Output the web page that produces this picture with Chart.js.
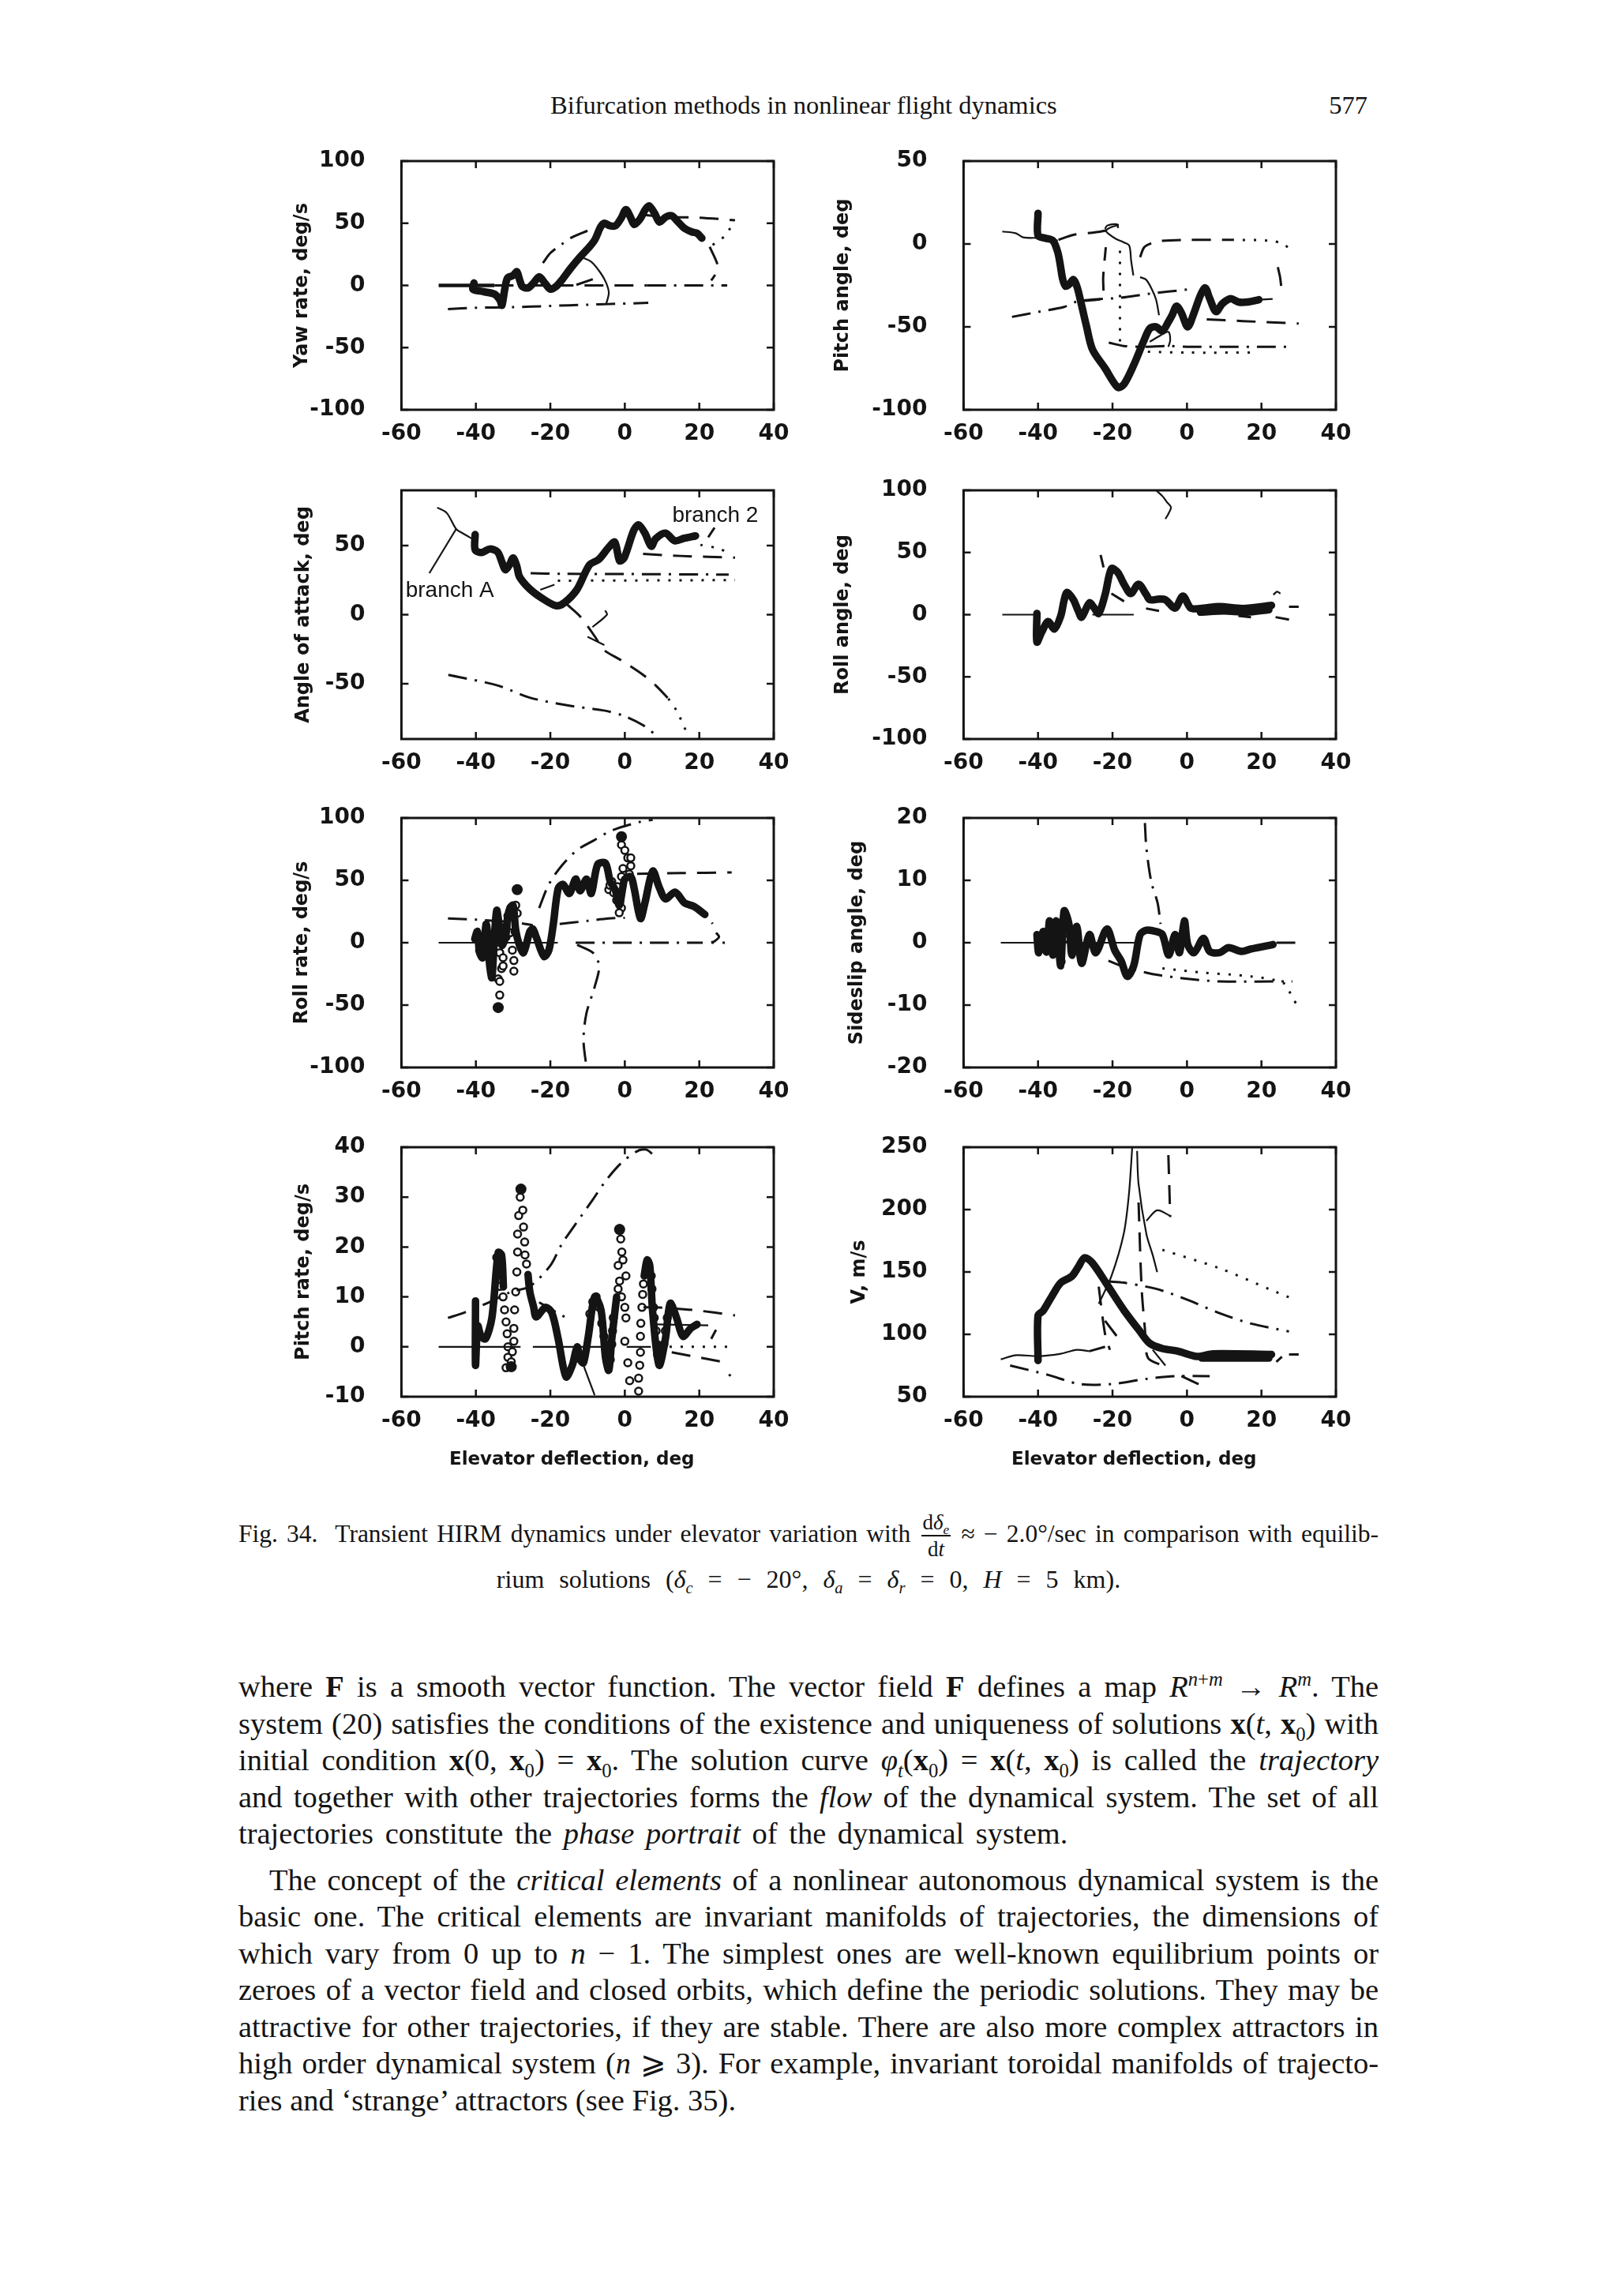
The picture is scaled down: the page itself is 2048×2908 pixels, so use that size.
<!DOCTYPE html>
<html>
<head>
<meta charset="utf-8">
<script src="https://cdn.jsdelivr.net/npm/chart.js@4.4.1/dist/chart.umd.min.js"></script>
<style>
  body { margin: 0; background: #fff; }
  #page { position: relative; width: 2048px; height: 2908px; background: #fff; color: #141414;
    font-family: "Liberation Serif", "Times New Roman", serif; overflow: hidden; }
  canvas { position: absolute; }
  .txt { position: absolute; white-space: nowrap; }
  .j { text-align: justify; text-align-last: justify; }
  .j.last { text-align-last: left; }
  sup, sub { font-size: .64em; line-height: 0; }
  .frac { display: inline-flex; flex-direction: column; align-items: center; vertical-align: middle;
    font-size: 27px; line-height: 1.2; margin: 0 2px; }
  .frac > span:first-child { border-bottom: 2px solid #141414; padding: 0 2px; }
</style>
</head>
<body>
<div id="page">
  <div class="txt" style="left:697px;top:115px;font-size:32.5px;line-height:36px">Bifurcation methods in nonlinear flight dynamics</div>
  <div class="txt" style="right:316px;top:115px;font-size:32.5px;line-height:36px">577</div>

  <canvas id="c1"></canvas><canvas id="c2"></canvas>
  <canvas id="c3"></canvas><canvas id="c4"></canvas>
  <canvas id="c5"></canvas><canvas id="c6"></canvas>
  <canvas id="c7"></canvas><canvas id="c8"></canvas>

  <div class="txt j" style="left:302px;width:1444px;top:1912px;font-size:31.5px;line-height:50px;white-space:normal">Fig. 34.&nbsp; Transient HIRM dynamics under elevator variation with <span class="frac"><span>d<i>δ</i><sub><i>e</i></sub></span><span>d<i>t</i></span></span> ≈ − 2.0°/sec in comparison with equilib-</div>
  <div class="txt" style="left:302px;width:1444px;top:1980px;font-size:32px;line-height:40px;text-align:center;word-spacing:11px">rium solutions (<i>δ</i><sub><i>c</i></sub> = − 20°, <i>δ</i><sub><i>a</i></sub> = <i>δ</i><sub><i>r</i></sub> = 0, <i>H</i> = 5 km).</div>

  <div style="position:absolute;left:302px;width:1444px;top:2113px;font-size:38.5px;line-height:46.5px">
    <div class="j">where <b>F</b> is a smooth vector function. The vector field <b>F</b> defines a map <i>R</i><sup><i>n</i>+<i>m</i></sup> → <i>R</i><sup><i>m</i></sup>. The</div>
    <div class="j">system (20) satisfies the conditions of the existence and uniqueness of solutions <b>x</b>(<i>t</i>, <b>x</b><sub>0</sub>) with</div>
    <div class="j">initial condition <b>x</b>(0, <b>x</b><sub>0</sub>) = <b>x</b><sub>0</sub>. The solution curve <i>φ</i><sub><i>t</i></sub>(<b>x</b><sub>0</sub>) = <b>x</b>(<i>t</i>, <b>x</b><sub>0</sub>) is called the <i>trajectory</i></div>
    <div class="j">and together with other trajectories forms the <i>flow</i> of the dynamical system. The set of all</div>
    <div class="j last" style="word-spacing:5px">trajectories constitute the <i>phase portrait</i> of the dynamical system.</div>
    <div class="j" style="text-indent:39px;margin-top:12px">The concept of the <i>critical elements</i> of a nonlinear autonomous dynamical system is the</div>
    <div class="j">basic one. The critical elements are invariant manifolds of trajectories, the dimensions of</div>
    <div class="j">which vary from 0 up to <i>n</i> − 1. The simplest ones are well-known equilibrium points or</div>
    <div class="j">zeroes of a vector field and closed orbits, which define the periodic solutions. They may be</div>
    <div class="j">attractive for other trajectories, if they are stable. There are also more complex attractors in</div>
    <div class="j">high order dynamical system (<i>n</i> ⩾ 3). For example, invariant toroidal manifolds of trajecto-</div>
    <div class="j last">ries and ‘strange’ attractors (see Fig. 35).</div>
  </div>
</div>

<script>
// Fig. 34 — transient HIRM response (thick) against equilibrium branches (thin, dashed, dotted).
// Values, in [elevator deg, value] pairs.

const X_TICKS = [-60, -40, -20, 0, 20, 40];

// --- yaw rate, deg/s ---------------------------------------------------------
const yawTraj = [[-40.5,2],[-40.8,-3],[-38,-5],[-35,-7],[-33.5,-12],[-33,-16],[-32.3,-4],[-31.5,6],[-30,8],
  [-29,11],[-28.2,4],[-27.5,-1],[-26,-2],[-24.5,2],[-23,7],[-21.5,2],[-20,-3],[-18.5,-1],[-17,4],[-14.5,14],
  [-12,23],[-9.5,31],[-8,37],[-6.5,47],[-5.5,50],[-4,48],[-2.5,48],[-1,54],[0.3,61],[1.5,55],[2.5,49],[4,53],
  [5.5,61],[6.5,64],[8,58],[9.3,51],[11,55],[12.6,56],[14,52],[16,46],[18,43],[19.4,42],[20.7,38]];
const yawSolid0 = [[-50,0],[-35,0]];
const yawDash0 = [[-35,0],[6,0]];
const yawDashDot0 = [[6,0],[27.5,0]];
const yawDashDotLow = [[-47.5,-19],[-40,-18],[-30,-17.5],[-20,-16.5],[-10,-15.5],[-4.5,-15],[6.3,-14]];
const yawThinArc = [[-12,23],[-9,19],[-6.5,10],[-5,2],[-4.3,-6],[-5,-15]];
const yawRiseArc = [[-22,18],[-20,26],[-17,33],[-14,39],[-10,44]];
const yawShortDash = [[-13,0.5],[-8.6,5]];
const yawUpperDash = [[4,57],[12,55],[20,54.5],[29.6,52.4]];
const yawFoldDot = [[28.3,46],[27,40],[22.8,31]];
const yawFoldDash = [[22.8,31],[24.9,16.5],[24.5,10],[23.2,4]];

// --- pitch angle, deg ----------------------------------------------------------
const pitchTraj = [[-40,18.5],[-40,5],[-38,3.5],[-36,2],[-34.7,-5],[-34,-13],[-33.4,-21],[-32.6,-25.5],
  [-31.5,-24],[-30.5,-21.5],[-29.5,-26],[-28.3,-37],[-27,-49.5],[-25.4,-63.5],[-22,-75],[-18.6,-86.5],
  [-16.9,-84.5],[-14.3,-73],[-11.7,-59],[-10,-51],[-8.3,-50],[-6.6,-52.5],[-5,-47],[-4,-43],[-2.8,-37.5],
  [-1.5,-41.5],[0.2,-50],[1.9,-41.5],[3.6,-31],[4.9,-26.5],[6.1,-32.9],[7.8,-40.8],[9.5,-36],[11.7,-33],
  [13.8,-35],[16.3,-35],[19.3,-33.6]];
const pitchSolidA = [[-49.6,7.5],[-46,6.5],[-44,4],[-40,3.6],[-36,2.5],[-34.7,2]];
const pitchDashUp = [[-34.5,2.5],[-30.5,5.5],[-25.4,6.8],[-22,8],[-20.3,9.2],[-18.3,10.5]];
const pitchThinLoop = [[-22,9],[-21.5,11],[-19.5,12],[-18.5,11.5],[-20.5,10],[-21.7,8],[-21,6],[-19,3],
  [-17,1],[-15.5,-1],[-15,-10],[-14.4,-19]];
const pitchDashL = [[-28.3,-34.5],[-23.5,-33.5],[-22.5,-33],[-22.5,-20],[-21.8,-2]];
const pitchDashDotLow = [[-47,-44],[-40,-41],[-33,-38],[-30,-35],[-25,-33.5],[-18,-32.5],[-10,-30],[0,-27.5]];
const pitchSolidEnd = [[19.3,-33.6],[23,-33.2]];
const pitchDotV = [[-18,-4],[-18,-62]];
const pitchDashDotBottom = [[-21,-59.5],[-17,-61.5],[-12,-62],[-5,-61.5],[0,-62],[28,-62]];
const pitchDotBottom = [[-10.5,-65],[0,-65.5],[18,-65.5]];
const pitchDashTop = [[-12.6,-8],[-11.5,-2],[-9.5,0.5],[-7,1.8],[0,2.5],[12,2.5]];
const pitchDotTop = [[12,2.5],[22,2],[26,0],[27.4,-3]];
const pitchDashArc = [[24.4,-14],[25,-20],[25.3,-25.5]];
const pitchThin2 = [[-12.6,-20],[-11,-21.5],[-9.5,-27],[-8.3,-33.6],[-7.5,-43]];
const pitchDashRight = [[5.3,-45.5],[15,-46.5],[30,-48]];
const pitchThinSmall = [[-10,-59],[-7,-55],[-5,-53],[-4.5,-58],[-5,-62]];

// --- angle of attack, deg ------------------------------------------------------
const aoaTraj = [[-40.2,58],[-40.2,47],[-38.5,45],[-36.3,47.5],[-34.2,45.5],[-33,38],[-32.1,32.5],[-31,36],
  [-30,41],[-29,35],[-28.3,27.5],[-25.7,19],[-22.3,12],[-18.5,6.5],[-16.3,8.5],[-12.9,18],[-9.5,36],[-7,40],
  [-4.4,48.5],[-2.7,52.5],[-1.4,39],[-0.2,41],[2.4,61],[3.7,65],[5.4,59],[7.1,49.5],[8.3,55],[10.9,59],
  [13.4,53.5],[16,55.3],[19,57]];
const aoaBranchA = [[-50.4,77.5],[-47.8,73.5],[-45.3,62],[-43.6,59],[-40.6,54.3]];
const aoaLeaderA = [[-52.5,30],[-45.3,62]];
const aoaLeader2 = [[22.4,56],[24.1,63]];
const aoaDashTop = [[4.9,44],[15,42.5],[29.6,41.3]];
const aoaDashDot = [[-25.3,30],[-17,29.6],[0,29.4],[27.9,29]];
const aoaDot = [[-18,24.6],[29.6,25]];
const aoaDotFold = [[20.3,50.5],[25,48],[27.9,44.7]];
const aoaDashDiag = [[-15.5,7.3],[-12,-1.3],[-8,-16],[-5.7,-25.3],[-1,-33],[4.9,-43.6],[8.3,-51.2],[11.7,-60.8]];
const aoaDotDiag = [[11.7,-60.8],[14,-70],[16.9,-87]];
const aoaDashDotLow = [[-47.4,-43.6],[-34.2,-51.2],[-25.7,-59.9],[-15.5,-65.6],[-5.3,-69.5],[-0.2,-73.3],
  [4.9,-80],[8.3,-87]];
const aoaThinZ = [[-5.3,3],[-4.8,0],[-8.7,-9]];
const aoaThinZ2 = [[-10,-16],[-5.5,-22]];
const aoaThinShort = [[-22.7,18],[-18.9,21.7]];
const aoaNotes = [["branch A", -47, 17], ["branch 2", 24.3, 71.5]];

// --- roll angle, deg -----------------------------------------------------------
const rollAngTraj = [[-40.3,1],[-40.3,-22],[-39,-14],[-37.3,-5.5],[-35.6,-11.5],[-33.9,-1],[-33,11.5],
  [-32.2,18],[-30.5,12],[-29.2,3],[-28.3,-2],[-26.2,9.5],[-24.9,5.3],[-23.7,1],[-22,16],[-20.3,37],
  [-18.6,34],[-16.9,24.5],[-15.1,17],[-13,24.5],[-10.9,16],[-10,12],[-7.5,12.5],[-5.8,12],[-3.2,5.3],
  [-1.1,15],[1,5.3],[3.6,5],[8.7,6.5],[15,5],[22.7,7.5]];
const rollAngBand = [[3.6,2],[10,3],[16,2],[22,4]];
const rollAngSolid0 = [[-49.6,0],[-40.3,0]];
const rollAngSolid0b = [[-25.4,0],[-14.3,0]];
const rollAngTop = [[-8.3,100],[-6.5,95],[-5.4,90.6],[-4.3,86.4],[-5,81],[-5.8,77]];
const rollAngDash1 = [[-20.3,17],[-16.9,10.7]];
const rollAngDash2 = [[-11,5],[-7.5,3]];
const rollAngDash3 = [[-23.2,48],[-22.4,38]];
const rollAngDashR = [[27.4,6.4],[30,6.4]];
const rollAngDashR2 = [[23.8,-2],[27.4,-4]];
const rollAngDashR3 = [[13.8,-1],[17.2,-2]];
const rollAngArc = [[23.2,16],[24.2,18.5],[25.1,17]];

// --- roll rate, deg/s ----------------------------------------------------------
const rollRateTraj = [[-40.3,3],[-39.6,9],[-39,-8],[-38.2,-12],[-37.2,15],[-36.3,-18],[-35.7,-28],[-35,6],
  [-34.4,26],[-33.8,15],[-33,-2],[-32,5],[-31.5,20],[-30.8,28],[-30,30],[-29.3,10],[-28.3,-2],[-27.2,-8],
  [-25.5,9],[-24.7,11],[-23.8,4.6],[-21.7,-11],[-20.4,-6],[-19.2,15],[-17.9,43.5],[-16.6,46.8],[-14.9,39.5],
  [-13.2,51],[-12,41.6],[-10.3,51],[-9,39.5],[-7.3,62.7],[-5.2,63.7],[-3.9,49],[-2.6,42.6],[-1.5,30],
  [-0.5,45],[0,51],[1.6,53],[2.5,43.7],[4.2,19.4],[5.4,32],[7.5,57.4],[9.2,44.7],[10.9,35.2],[13.5,40.5],
  [16,32],[18.6,29],[21.5,22.6]];
const rollRateCircles = [[-39,-6],[-37.8,-10],[-36.5,-4],[-35.5,-4],[-34,-5],[-33.6,-8],[-33.1,-20.7],
  [-34,-29],[-33.6,-31],[-33.6,-42],[-32.7,-12],[-32.7,-18.6],[-31.9,4.6],[-31.9,13],[-31.4,21.5],
  [-30.6,27.8],[-29.3,30],[-28.9,23.6],[-30.2,-6],[-29.8,-14.3],[-29.8,-22.8],[-30.8,8],[-29.5,9],
  [-0.9,78.5],[0,74],[0.8,68],[1.6,61.6],[-0.5,59.5],[-0.9,53],[-3.5,49],[-4.3,42.6],[-3,40],[-2.2,34],
  [-1.4,32],[-0.9,27.8],[1.2,55],[1.6,68],[-4,46],[-2,45],[-1.5,24]];
const rollRateBlobs = [[-28.9,42.6],[-34,-52],[-0.9,85]];
const rollRateSolid0 = [[-50,0],[-18,0]];
const rollRateDash0 = [[-13.2,0],[20.3,0]];
const rollRateDot0 = [[20.3,0],[28,0]];
const rollRateLow1 = [[-47.5,19.5],[-40,18.5],[-30,16.5],[-24.7,14]];
const rollRateLow2 = [[-17.5,15],[-10,17.5],[-4.3,19.4],[0,20]];
const rollRateRise = [[-23,27.8],[-20.4,46.8],[-17,61.6],[-12.8,74.3],[-8.6,81.6],[-3.5,90],[4.2,97],[7.5,98.5]];
const rollRateDashR = [[3.3,55.3],[15,55.8],[28.7,56.3]];
const rollRateFoldDot = [[21.5,23],[23.6,15.2]];
const rollRateFoldDash = [[24.5,8],[25.3,4.6],[24,1],[23.2,0.4]];
const rollRateDown = [[-12.8,-1.7],[-8.6,-8],[-6.9,-18.6],[-8.1,-35.4],[-10.3,-56.5],[-11.1,-77.6],[-10.3,-100]];

// --- sideslip angle, deg ---------------------------------------------------------
const sideTraj = [[-40.3,1.3],[-39.8,-1.6],[-38.6,1.8],[-37.7,-1.5],[-36.9,3.5],[-36,-2],[-35.1,3.5],
  [-33.9,-3.7],[-33,5.1],[-31.7,3],[-30.9,-2],[-29.6,2.6],[-28.3,-3.3],[-26.2,1.3],[-24.5,-1.6],[-21.5,2.2],
  [-19.4,-1.2],[-17.7,-2.9],[-16,-5.4],[-14.3,-3.7],[-12.6,1.3],[-10.9,2],[-8.3,1.8],[-6.6,1.3],[-4.9,-2],
  [-3.2,1.3],[-2,-1.6],[-0.7,3.5],[0.2,-0.3],[1.9,-1.6],[4.4,0.7],[6.1,-1.4],[8.7,-1.6],[11.2,-0.8],
  [14.6,-1.4],[17.2,-1],[23.1,-0.3]];
const sideCircles = [[-36.5,1],[-35.5,0.5],[-34.5,2],[-33.8,-3],[-33,0.6],[-32,2.5],[-0.5,1]];
const sideSolid0 = [[-50,0],[-13,0]];
const sideDashR = [[24,0],[30,0]];
const sideSteep = [[-11.3,19.2],[-10.9,15.2],[-9.6,9.8],[-7.9,6.4],[-7.1,3]];
const sideLow = [[-21.1,-2.9],[-17.7,-3.7],[-10.9,-4.8],[-7.5,-5.2],[0.2,-5.8],[8.7,-6.2],[28.3,-6.2]];
const sideDot = [[-6.6,-4.1],[4.4,-4.8],[17.2,-5.4],[26,-6.5],[28.3,-8.8],[30,-10.4]];

// --- pitch rate, deg/s -----------------------------------------------------------
const pitchRateTrajA = [[-40.1,9.2],[-40.1,-3.7],[-39.5,4.2],[-38.6,2.1],[-37.4,1.6],[-35.7,5.8],[-34,18.9],
  [-33.1,18.4],[-32.6,12]];
const pitchRateTrajB = [[-26,14.5],[-25.5,11],[-24.5,8],[-23.8,6],[-21.3,7.9],[-19.6,6.8],[-17.9,1.6],
  [-15.8,-6],[-14.1,-3.7],[-12.8,0],[-12,-2.6],[-11.1,-3.2],[-9.8,2.1],[-8.1,10],[-6.4,7.4],[-5.2,-2.1],
  [-4.3,-4.7],[-3.5,1.6],[-2.2,10]];
const pitchRateTrajC = [[5.2,14.2],[6,17.4],[6.7,16.3],[7.5,6.8],[9.2,-3.7],[10.9,1.6],[12.2,8.7],[13.9,5.8],
  [15.6,2.1],[17.7,3.7],[19.4,4.5]];
const pitchRateCircles = [[-34.4,17.9],[-34,15.3],[-33.6,12.1],[-32.7,10],[-32.3,7.4],[-31.9,5],[-31.6,2.6],
  [-31.4,0],[-31.4,-2.1],[-31.9,-4.2],[-30.5,-3],[-30.2,-1],[-29.8,1.1],[-29.8,3.7],[-29.6,7.4],[-29.3,11],
  [-29,15],[-28.8,19],[-28.8,22.6],[-28.5,26.3],[-28.1,30],[-27.4,27.4],[-27.2,24],[-26.9,21],[-26.8,18.4],
  [-26.4,16.6],[-9.4,6.6],[-8.6,9],[-7.7,10],[-6.9,7.9],[-6.2,4.7],[-5.6,2.1],[-4.7,-1.1],[-3.9,-2.6],
  [-3.5,0.5],[-3.3,3.2],[-3.1,5.8],[-1.4,23.7],[-1.1,21.6],[-0.8,19],[-0.5,17.4],[-1.8,16.3],[-1.4,13.2],
  [-1.8,11.6],[-0.9,10],[0,7.9],[0.3,5.8],[0,1.1],[0.8,-3.2],[1.3,-6.8],[0.3,14.2],[3.7,-8.9],[3.7,-6.3],
  [4,-3.7],[4.2,-1.1],[4.2,2.1],[4.3,4.7],[4.6,7.9],[4.8,10.5],[5,12.6],[7.1,14.2],[7.3,11.6],[7.7,7.9],
  [7.9,5.8],[8.4,3.2],[8.6,0.5],[8.8,-1.6],[10.5,0.5],[10.9,3.2],[11.4,5.8]];
const pitchRateBlobs = [[-27.9,31.6],[-30.5,-4],[-1.4,23.5]];
const pitchRateSolid0 = [[-50,0],[-28,0]];
const pitchRateSolid0b = [[-24.7,0],[-3.5,0]];
const pitchRateSolid0c = [[0.5,0],[7,0]];
const pitchRateRise = [[-47.5,5.8],[-43.3,6.8],[-36.5,8.9],[-30.6,11],[-25.5,12.1],[-20,16.3],[-17,20.5],
  [-13.6,24.2],[-8.6,29.5],[-5.2,33.2],[-1,36.8],[3.3,39.2],[5.8,39.5],[8.4,37.9]];
const pitchRateDip = [[-12.8,0],[-11.1,-3.7],[-8.1,-9.7]];
const pitchRateDD2 = [[-23,8.9],[-16.2,6]];
const pitchRateDashR = [[5,7.9],[8.4,7.9],[18.1,7.4],[29.6,6.3]];
const pitchRateSolidR = [[8.4,4.5],[22.4,4.3]];
const pitchRateDashLow = [[12.6,-1.1],[27.5,-3.2]];
const pitchRateDot0 = [[12,0],[28,0]];
const pitchRateDotEnd = [[28,-5.5],[29.6,-7.1]];
const pitchRateArc = [[24.5,3.4],[23.2,1.6]];

// --- airspeed V, m/s -------------------------------------------------------------
const vTraj = [[-40,79],[-40,115],[-38.6,119],[-36,132],[-33.9,141.4],[-30.9,146.6],[-29.2,154],[-27.5,161.4],
  [-25.4,157.2],[-21.1,138.2],[-16.9,119.2],[-12.6,102.3],[-10,92.8],[-6.6,88.6],[-2.4,86.5],[2.7,82.3],
  [7,84.4],[22.7,83.8]];
const vBand = [[4,81],[22,81]];
const vThinLow = [[-50,80],[-45.8,83.3],[-40,82.5],[-33.9,84.4],[-29.6,87.6],[-26.2,86.5]];
const vDashLow = [[-26.2,86.5],[-22,90]];
const vDashDotLow = [[-47.5,75],[-37.3,67.5],[-28.8,60.1],[-20.3,60.1],[-10.9,64.3],[-3.2,66.5],[6.1,66.5]];
const vDashDown = [[-1.5,66.5],[5.3,57]];
const vSpikeL = [[-23.7,124.5],[-20.3,146.6],[-17,180.4],[-15.6,212],[-14.7,250]];
const vSpikeR = [[-13.4,247],[-13,220.5],[-10.9,180.4],[-9.2,163.5],[-8,149.8]];
const vDashV1 = [[-5,243.7],[-4.5,194]];
const vArc = [[-10.9,191],[-8,199.4],[-4.5,195]];
const vDashV2 = [[-13,205.7],[-12.2,138],[-11.3,104.4],[-10.5,81.2],[-6.6,75]];
const vDash3 = [[-23.7,138.2],[-22,100.2],[-20.7,87.6]];
const vDD3 = [[-22,110.8],[-17.7,94]];
const vDot = [[-6.6,167.7],[8.7,153],[22.3,136],[29.1,127.6]];
const vDD = [[-21.1,142.4],[-16.9,141.4],[-10.9,138.2],[-6.6,135],[0.2,127.6],[8.7,117],[17.2,108.6],[27.4,102.3]];
const vThinDown = [[-9.2,87.6],[-5.8,75]];
const vDashR = [[27.4,83.8],[30,83.8]];
const vArcR = [[24,78],[25.5,82]];

// --- styling -------------------------------------------------------------------
const INK = "#141414";
const STYLE = {
  thick: { borderWidth: 9.5 },
  medium: { borderWidth: 4.5 },
  solid: { borderWidth: 2.2 },
  dash: { borderWidth: 3, borderDash: [24, 14] },
  dashdot: { borderWidth: 3, borderDash: [24, 10, 3, 10] },
  dot: { borderWidth: 3, borderDash: [3, 11] },
};

Chart.defaults.font.family = "'DejaVu Sans', sans-serif";
Chart.defaults.font.weight = "bold";
Chart.defaults.font.size = 28;
Chart.defaults.color = INK;

function line(arr, kind) {
  return {
    data: arr.map(([x, y]) => ({ x, y })), showLine: true, pointRadius: 0, borderColor: INK,
    tension: arr.length > 2 ? 0.3 : 0, borderCapStyle: kind === "thick" ? "round" : "butt",
    borderJoinStyle: "round", clip: 4, ...STYLE[kind],
  };
}
function circles(arr) {
  return { data: arr.map(([x, y]) => ({ x, y })), showLine: false, pointRadius: 4.5, pointBorderWidth: 2.5,
    pointBackgroundColor: "#fff", pointBorderColor: INK, clip: 4 };
}
function blobs(arr) {
  return { data: arr.map(([x, y]) => ({ x, y })), showLine: false, pointRadius: 7, pointBorderWidth: 0,
    pointBackgroundColor: INK, clip: 4 };
}

// box frame with inward tick marks on all four sides, plus free text notes
const framePlugin = {
  id: "frame",
  afterDatasetsDraw(chart, args, opts) {
    const { ctx, chartArea: a, scales: { x, y } } = chart;
    ctx.save();
    ctx.strokeStyle = INK;
    ctx.lineWidth = 3;
    ctx.strokeRect(a.left, a.top, a.right - a.left, a.bottom - a.top);
    ctx.lineWidth = 2.5;
    ctx.beginPath();
    x.ticks.forEach((t) => {
      const p = x.getPixelForValue(t.value);
      ctx.moveTo(p, a.bottom); ctx.lineTo(p, a.bottom - 9);
      ctx.moveTo(p, a.top); ctx.lineTo(p, a.top + 9);
    });
    y.ticks.forEach((t) => {
      const p = y.getPixelForValue(t.value);
      ctx.moveTo(a.left, p); ctx.lineTo(a.left + 9, p);
      ctx.moveTo(a.right, p); ctx.lineTo(a.right - 9, p);
    });
    ctx.stroke();
    (opts.notes || []).forEach(([text, nx, ny]) => {
      ctx.font = "28px 'Liberation Sans Narrow', 'Liberation Sans', sans-serif";
      ctx.fillStyle = INK;
      ctx.textAlign = "center";
      ctx.textBaseline = "middle";
      ctx.fillText(text, x.getPixelForValue(nx), y.getPixelForValue(ny));
    });
    ctx.restore();
  },
};

function panel(id, box, yTitle, yr, datasets, opts = {}) {
  // generous outer padding so tick-label overflow never moves the plot box
  const padTop = 90, padRight = 64;
  const xH = opts.xTitle ? 98 : 90;
  const cLeft = box.titleX - 18.4;
  const yW = box.l - cLeft;
  const cv = document.getElementById(id);
  cv.width = Math.round(yW + box.w + padRight);
  cv.height = Math.round(padTop + box.h + xH);
  cv.style.left = cLeft + "px";
  cv.style.top = (box.t - padTop) + "px";
  new Chart(cv, {
    type: "scatter",
    data: { datasets },
    plugins: [framePlugin],
    options: {
      responsive: false, animation: false, devicePixelRatio: 1,
      layout: { padding: { top: padTop, right: padRight, left: 0, bottom: 0 } },
      plugins: { legend: { display: false }, tooltip: { enabled: false }, frame: { notes: opts.notes || [] } },
      scales: {
        x: {
          min: X_TICKS[0], max: X_TICKS[X_TICKS.length - 1],
          afterBuildTicks: (s) => { s.ticks = X_TICKS.map((v) => ({ value: v })); },
          afterFit: (s) => { s.height = xH; },
          grid: { display: false, drawTicks: false }, border: { display: false },
          ticks: { padding: 14, maxRotation: 0, autoSkip: false },
          title: { display: !!opts.xTitle, text: opts.xTitle || "", font: { size: 23, weight: "bold" },
            padding: { top: 4, bottom: 4 } },
        },
        y: {
          min: yr.min, max: yr.max,
          afterBuildTicks: (s) => { s.ticks = yr.ticks.map((v) => ({ value: v })); },
          afterFit: (s) => { s.width = yW; },
          grid: { display: false, drawTicks: false }, border: { display: false },
          ticks: { padding: 46, autoSkip: false },
          title: { display: true, text: yTitle, font: { size: 24, weight: "bold" }, padding: { top: 4, bottom: 4 } },
        },
      },
    },
  });
}

const L = { l: 508, w: 472 }, R = { l: 1220, w: 472 };
// trailing spaces nudge the centred x-axis title a little left, as on the page
const XT = "Elevator deflection, deg\u00a0\u00a0\u00a0\u00a0\u00a0";

panel("c1", { ...L, t: 204, h: 315, titleX: 382 }, "Yaw rate, deg/s",
  { min: -100, max: 100, ticks: [-100, -50, 0, 50, 100] }, [
    line(yawSolid0, "medium"), line(yawDash0, "dash"), line(yawDashDot0, "dashdot"),
    line(yawDashDotLow, "dashdot"), line(yawThinArc, "solid"), line(yawRiseArc, "dashdot"),
    line(yawShortDash, "dash"), line(yawUpperDash, "dash"), line(yawFoldDot, "dot"), line(yawFoldDash, "dash"),
    line(yawTraj, "thick"),
  ]);

panel("c2", { ...R, t: 204, h: 315, titleX: 1067 }, "Pitch angle, deg",
  { min: -100, max: 50, ticks: [-100, -50, 0, 50] }, [
    line(pitchSolidA, "solid"), line(pitchDashUp, "dash"), line(pitchThinLoop, "solid"), line(pitchDashL, "dash"),
    line(pitchDashDotLow, "dashdot"), line(pitchSolidEnd, "solid"), line(pitchDotV, "dot"),
    line(pitchDashDotBottom, "dashdot"), line(pitchDotBottom, "dot"), line(pitchDashTop, "dash"),
    line(pitchDotTop, "dot"), line(pitchDashArc, "dash"), line(pitchThin2, "solid"), line(pitchDashRight, "dash"),
    line(pitchThinSmall, "solid"), line(pitchTraj, "thick"),
  ]);

panel("c3", { ...L, t: 621, h: 315, titleX: 384 }, "Angle of attack, deg",
  { min: -90, max: 90, ticks: [-50, 0, 50] }, [
    line(aoaBranchA, "solid"), line(aoaLeaderA, "solid"), line(aoaLeader2, "dash"), line(aoaDashTop, "dash"),
    line(aoaDashDot, "dashdot"), line(aoaDot, "dot"), line(aoaDotFold, "dot"), line(aoaDashDiag, "dash"),
    line(aoaDotDiag, "dot"), line(aoaDashDotLow, "dashdot"), line(aoaThinZ, "solid"), line(aoaThinZ2, "solid"),
    line(aoaThinShort, "solid"), line(aoaTraj, "thick"),
  ], { notes: aoaNotes });

panel("c4", { ...R, t: 621, h: 315, titleX: 1067 }, "Roll angle, deg",
  { min: -100, max: 100, ticks: [-100, -50, 0, 50, 100] }, [
    line(rollAngSolid0, "solid"), line(rollAngSolid0b, "solid"), line(rollAngTop, "solid"),
    line(rollAngDash1, "dash"), line(rollAngDash2, "dash"), line(rollAngDash3, "dash"), line(rollAngDashR, "dash"),
    line(rollAngDashR2, "dash"), line(rollAngDashR3, "dash"), line(rollAngArc, "solid"),
    line(rollAngBand, "thick"), line(rollAngTraj, "thick"),
  ]);

panel("c5", { ...L, t: 1036, h: 316, titleX: 382 }, "Roll rate, deg/s",
  { min: -100, max: 100, ticks: [-100, -50, 0, 50, 100] }, [
    line(rollRateSolid0, "solid"), line(rollRateDash0, "dashdot"), line(rollRateDot0, "dot"),
    line(rollRateLow1, "dashdot"), line(rollRateLow2, "dashdot"), line(rollRateRise, "dashdot"),
    line(rollRateDashR, "dash"), line(rollRateFoldDot, "dot"), line(rollRateFoldDash, "dash"),
    line(rollRateDown, "dashdot"), line(rollRateTraj, "thick"), blobs(rollRateBlobs), circles(rollRateCircles),
  ]);

panel("c6", { ...R, t: 1036, h: 316, titleX: 1085 }, "Sideslip angle, deg",
  { min: -20, max: 20, ticks: [-20, -10, 0, 10, 20] }, [
    line(sideSolid0, "solid"), line(sideDashR, "dash"), line(sideSteep, "dashdot"), line(sideLow, "dashdot"),
    line(sideDot, "dot"), line(sideTraj, "thick"), circles(sideCircles),
  ]);

panel("c7", { ...L, t: 1453, h: 316, titleX: 384 }, "Pitch rate, deg/s",
  { min: -10, max: 40, ticks: [-10, 0, 10, 20, 30, 40] }, [
    line(pitchRateSolid0, "solid"), line(pitchRateSolid0b, "solid"), line(pitchRateSolid0c, "solid"),
    line(pitchRateRise, "dashdot"), line(pitchRateDip, "solid"), line(pitchRateDD2, "dashdot"),
    line(pitchRateDashR, "dash"), line(pitchRateSolidR, "solid"), line(pitchRateDashLow, "dash"),
    line(pitchRateDot0, "dot"), line(pitchRateDotEnd, "dot"), line(pitchRateArc, "dash"),
    line(pitchRateTrajA, "thick"), line(pitchRateTrajB, "thick"), line(pitchRateTrajC, "thick"),
    blobs(pitchRateBlobs), circles(pitchRateCircles),
  ], { xTitle: XT });

panel("c8", { ...R, t: 1453, h: 316, titleX: 1088 }, "V, m/s",
  { min: 50, max: 250, ticks: [50, 100, 150, 200, 250] }, [
    line(vThinLow, "solid"), line(vDashLow, "dash"), line(vDashDotLow, "dashdot"), line(vDashDown, "dash"),
    line(vSpikeL, "solid"), line(vSpikeR, "solid"), line(vDashV1, "dash"), line(vArc, "solid"),
    line(vDashV2, "dash"), line(vDash3, "dash"), line(vDD3, "dashdot"), line(vDot, "dot"), line(vDD, "dashdot"),
    line(vThinDown, "solid"), line(vDashR, "dash"), line(vArcR, "dash"),
    line(vBand, "thick"), line(vTraj, "thick"),
  ], { xTitle: XT });
</script>
</body>
</html>
